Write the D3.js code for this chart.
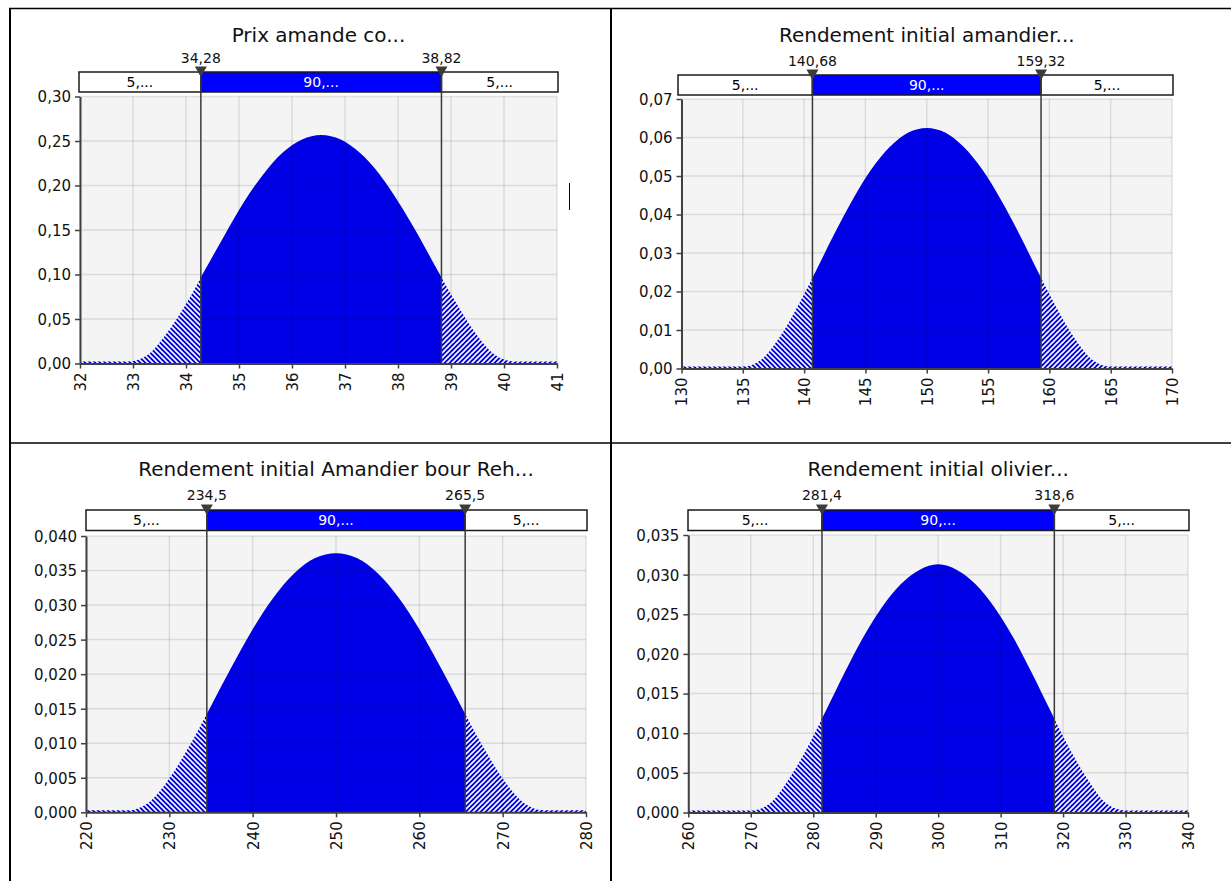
<!DOCTYPE html>
<html>
<head>
<meta charset="utf-8">
<script src="https://cdn.jsdelivr.net/npm/d3@7"></script>
<style>
  body { margin: 0; background: #fff; }
  svg { display: block; font-family: "DejaVu Sans", Verdana, sans-serif; }
</style>
</head>
<body>
<svg id="chart" width="1231" height="881"></svg>
<script>
// Titles of the four panels (reading order)
const titles = [
    'Prix amande co...',
    'Rendement initial amandier...',
    'Rendement initial Amandier bour Reh...',
    'Rendement initial olivier...'
];

// 5% / 95% markers and their labels
const leftMarks = [34.28, 140.68, 234.5, 281.4];
const rightMarks = [38.82, 159.32, 265.5, 318.6];
const leftLabels = ['34,28', '140,68', '234,5', '281,4'];
const rightLabels = ['38,82', '159,32', '265,5', '318,6'];
const bandLabels = ['5,...', '90,...', '5,...'];

// Axis ticks
const xTicks = [
    [32, 33, 34, 35, 36, 37, 38, 39, 40, 41],
    [130, 135, 140, 145, 150, 155, 160, 165, 170],
    [220, 230, 240, 250, 260, 270, 280],
    [260, 270, 280, 290, 300, 310, 320, 330, 340]
];
const yTicks = [
    [0, 0.05, 0.10, 0.15, 0.20, 0.25, 0.30],
    [0, 0.01, 0.02, 0.03, 0.04, 0.05, 0.06, 0.07],
    [0, 0.005, 0.010, 0.015, 0.020, 0.025, 0.030, 0.035, 0.040],
    [0, 0.005, 0.010, 0.015, 0.020, 0.025, 0.030, 0.035]
];
const yDecimals = [2, 2, 3, 3];

// Density curves
const dens1X = [32, 32.90, 33.27, 33.63, 34.00, 34.36, 34.73, 35.09, 35.46, 35.82, 36.19, 36.55,
    36.92, 37.28, 37.65, 38.01, 38.38, 38.74, 39.11, 39.47, 39.84, 40.20, 41];
const dens1Y = [0, 0, 0.0093, 0.0333, 0.0668, 0.1052, 0.1445, 0.1812, 0.2127, 0.2367, 0.2517, 0.2568,
    0.2517, 0.2367, 0.2127, 0.1812, 0.1445, 0.1052, 0.0668, 0.0333, 0.0093, 0, 0];

const dens2X = [130, 135, 136.5, 138, 139.5, 141, 142.5, 144, 145.5, 147, 148.5, 150,
    151.5, 153, 154.5, 156, 157.5, 159, 160.5, 162, 163.5, 165, 170];
const dens2Y = [0, 0, 0.0023, 0.0081, 0.0163, 0.0256, 0.0352, 0.0441, 0.0518, 0.0576, 0.0613, 0.0625,
    0.0613, 0.0576, 0.0518, 0.0441, 0.0352, 0.0256, 0.0163, 0.0081, 0.0023, 0, 0];

const dens3X = [220, 225, 227.5, 230, 232.5, 235, 237.5, 240, 242.5, 245, 247.5, 250,
    252.5, 255, 257.5, 260, 262.5, 265, 267.5, 270, 272.5, 275, 280];
const dens3Y = [0, 0, 0.0014, 0.0049, 0.0098, 0.0154, 0.0211, 0.0265, 0.0311, 0.0346, 0.0368, 0.0375,
    0.0368, 0.0346, 0.0311, 0.0265, 0.0211, 0.0154, 0.0098, 0.0049, 0.0014, 0, 0];

const dens4X = [260, 270, 273, 276, 279, 282, 285, 288, 291, 294, 297, 300,
    303, 306, 309, 312, 315, 318, 321, 324, 327, 330, 340];
const dens4Y = [0, 0, 0.0011, 0.0041, 0.0081, 0.0128, 0.0176, 0.0221, 0.0259, 0.0288, 0.0306, 0.0313,
    0.0306, 0.0288, 0.0259, 0.0221, 0.0176, 0.0128, 0.0081, 0.0041, 0.0011, 0, 0];

const densX = [dens1X, dens2X, dens3X, dens4X];
const densY = [dens1Y, dens2Y, dens3Y, dens4Y];

// Where each panel sits on the page
const layout = [
    { left: 80, right: 557, top: 96.5, bottom: 363.5, bandTop: 72, bandBottom: 92, bandLeft: 79, bandRight: 558, titleY: 42, labelY: 63 },
    { left: 681.5, right: 1172, top: 99, bottom: 368.5, bandTop: 75, bandBottom: 95, bandLeft: 678, bandRight: 1173, titleY: 42, labelY: 66 },
    { left: 86, right: 586, top: 536, bottom: 812.3, bandTop: 510, bandBottom: 530.5, bandLeft: 86, bandRight: 587, titleY: 476, labelY: 500 },
    { left: 688.3, right: 1188, top: 535, bottom: 812.5, bandTop: 510, bandBottom: 530.5, bandLeft: 688, bandRight: 1189, titleY: 476, labelY: 500 }
];

const svg = d3.select('#chart');
const defs = svg.append('defs');

// Hatch patterns for the tails
function hatch(id, d) {
    const p = defs.append('pattern')
        .attr('id', id)
        .attr('patternUnits', 'userSpaceOnUse')
        .attr('width', 5)
        .attr('height', 5);
    p.append('rect').attr('width', 5).attr('height', 5).attr('fill', '#0000dc');
    p.append('path').attr('d', d).attr('stroke', '#fff').attr('stroke-width', 1.6);
}
hatch('hatchL', 'M0,0L5,5M-1,4L1,6M4,-1L6,1');
hatch('hatchR', 'M0,5L5,0M-1,1L1,-1M4,6L6,4');

// Table frame around the panels
const frame = svg.append('g').attr('stroke', '#000').attr('fill', 'none');
frame.append('line').attr('x1', 9).attr('x2', 1231).attr('y1', 8.5).attr('y2', 8.5).attr('stroke-width', 1.5);
frame.append('line').attr('x1', 10).attr('x2', 10).attr('y1', 8).attr('y2', 881).attr('stroke-width', 2);
frame.append('line').attr('x1', 611).attr('x2', 611).attr('y1', 8).attr('y2', 881).attr('stroke-width', 2);
frame.append('line').attr('x1', 9).attr('x2', 1231).attr('y1', 443).attr('y2', 443).attr('stroke-width', 1.5);
frame.append('line').attr('x1', 569.5).attr('x2', 569.5).attr('y1', 183).attr('y2', 210).attr('stroke-width', 1);

function drawPanel(i) {
    const L = layout[i];
    const xt = xTicks[i], yt = yTicks[i];
    const g = svg.append('g');

    const x = d3.scaleLinear().domain([xt[0], xt[xt.length - 1]]).range([L.left, L.right]);
    const y = d3.scaleLinear().domain([0, yt[yt.length - 1]]).range([L.bottom, L.top]);
    const pts = densX[i].map((v, k) => ({ x: v, y: densY[i][k] }));

    // Title
    g.append('text')
        .attr('x', (L.left + L.right) / 2)
        .attr('y', L.titleY)
        .attr('text-anchor', 'middle')
        .style('font-size', '20px')
        .attr('fill', '#111')
        .text(titles[i]);

    // Plot background
    g.append('rect')
        .attr('x', L.left).attr('y', L.top)
        .attr('width', L.right - L.left).attr('height', L.bottom - L.top)
        .attr('fill', '#f4f4f4');

    // Area split into left tail / middle / right tail with clip paths
    const area = d3.area()
        .x(d => x(d.x))
        .y0(y(0))
        .y1(d => Math.min(y(d.y), y(0) - 2))
        .curve(d3.curveMonotoneX);

    const parts = [
        [xt[0], leftMarks[i], 'url(#hatchL)'],
        [leftMarks[i], rightMarks[i], '#0000e6'],
        [rightMarks[i], xt[xt.length - 1], 'url(#hatchR)']
    ];
    parts.forEach((p, k) => {
        const id = `clip${i}_${k}`;
        defs.append('clipPath').attr('id', id)
            .append('rect')
            .attr('x', x(p[0])).attr('y', L.top - 5)
            .attr('width', x(p[1]) - x(p[0])).attr('height', L.bottom - L.top + 10);
        g.append('path')
            .datum(pts)
            .attr('clip-path', `url(#${id})`)
            .attr('fill', p[2])
            .attr('d', area);
    });

    // Grid lines, semi-transparent so they show on the blue fill
    const grid = g.append('g').attr('stroke', 'rgba(0,0,0,0.1)').attr('stroke-width', 1.5);
    grid.selectAll('.gx').data(xt).enter().append('line')
        .attr('x1', d => x(d)).attr('x2', d => x(d))
        .attr('y1', L.top).attr('y2', L.bottom);
    grid.selectAll('.gy').data(yt).enter().append('line')
        .attr('x1', L.left).attr('x2', L.right)
        .attr('y1', d => y(d)).attr('y2', d => y(d));

    // Axes
    const fmt = v => v.toFixed(yDecimals[i]).replace('.', ',');
    const yAxis = g.append('g')
        .attr('transform', `translate(${L.left},0)`)
        .call(d3.axisLeft(y).tickValues(yt).tickFormat(fmt).tickSize(5).tickSizeOuter(0));
    const xAxis = g.append('g')
        .attr('transform', `translate(0,${L.bottom})`)
        .call(d3.axisBottom(x).tickValues(xt).tickFormat(d3.format('d')).tickSize(5).tickSizeOuter(0));

    [yAxis, xAxis].forEach(a => {
        a.attr('font-size', null).attr('font-family', null);
        a.select('.domain').attr('stroke', '#404040').attr('stroke-width', 2);
        a.selectAll('.tick line').attr('stroke', '#404040').attr('stroke-width', 1.5);
        a.selectAll('text').attr('fill', '#111').style('font-size', '15px');
    });
    yAxis.selectAll('text').attr('x', -9).attr('dy', '0.36em');
    xAxis.selectAll('text')
        .attr('transform', 'rotate(-90)')
        .attr('text-anchor', 'end')
        .attr('x', -9).attr('y', 0).attr('dy', '0.36em');

    // Percentile band above the plot
    const bandY = L.bandTop, bandH = L.bandBottom - L.bandTop;
    const segs = [
        [L.bandLeft, x(leftMarks[i]), '#fff', '#000'],
        [x(leftMarks[i]), x(rightMarks[i]), '#0000ff', '#fff'],
        [x(rightMarks[i]), L.bandRight, '#fff', '#000']
    ];
    segs.forEach((s, k) => {
        g.append('rect')
            .attr('x', s[0]).attr('y', bandY)
            .attr('width', s[1] - s[0]).attr('height', bandH)
            .attr('fill', s[2]).attr('stroke', '#1a1a1a').attr('stroke-width', 1.5);
        g.append('text')
            .attr('x', (s[0] + s[1]) / 2).attr('y', bandY + bandH / 2)
            .attr('dy', '0.36em')
            .attr('text-anchor', 'middle')
            .style('font-size', '14px')
            .attr('fill', s[3])
            .text(bandLabels[k]);
    });

    // Marker lines, triangles and values
    [[leftMarks[i], leftLabels[i]], [rightMarks[i], rightLabels[i]]].forEach(m => {
        const mx = x(m[0]);
        g.append('line')
            .attr('x1', mx).attr('x2', mx)
            .attr('y1', bandY).attr('y2', L.bottom)
            .attr('stroke', '#3a3a3a').attr('stroke-width', 1.5);
        g.append('path')
            .attr('d', `M${mx - 6},${bandY - 5.5}L${mx + 6},${bandY - 5.5}L${mx},${bandY + 5}Z`)
            .attr('fill', '#3c3c3c');
        g.append('text')
            .attr('x', mx).attr('y', L.labelY)
            .attr('text-anchor', 'middle')
            .style('font-size', '14px')
            .attr('fill', '#111')
            .text(m[1]);
    });
}

titles.forEach((t, i) => drawPanel(i));
</script>
</body>
</html>
